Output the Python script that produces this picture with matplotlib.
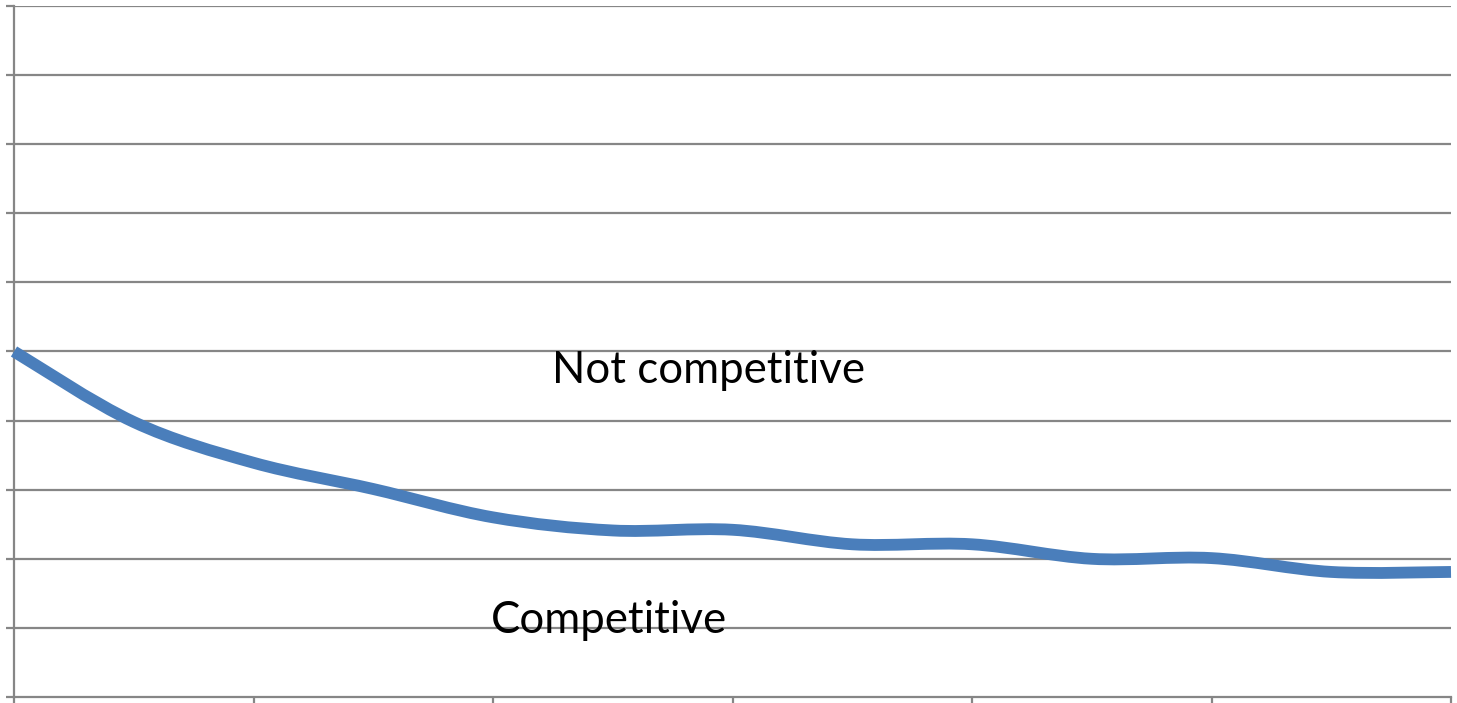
import matplotlib
matplotlib.use("Agg")
import matplotlib.pyplot as plt
from matplotlib.path import Path
from matplotlib.patches import PathPatch
import numpy as np

# Data
x_points = list(range(13))
threshold = [5.0, 3.98, 3.39, 3.01, 2.60, 2.41, 2.42, 2.21, 2.21, 2.00, 2.01, 1.81, 1.81]
y_ticks = list(range(11))
x_ticks = [0, 2, 4, 6, 8, 10, 12]
label_top = "Not competitive"
label_bottom = "Competitive"

W, H = 1457, 703
fig = plt.figure(figsize=(W / 100, H / 100), dpi=100)
ax = fig.add_axes([14 / W, 6 / H, (1451 - 14) / W, (697 - 6) / H])

ax.set_xlim(0, 12)
ax.set_ylim(0, 10)

grid_color = "#868686"
for yv in y_ticks[1:]:
    ax.axhline(yv, color=grid_color, lw=1.6, zorder=1)

for side in ["top", "right"]:
    ax.spines[side].set_visible(False)
ax.spines["left"].set_color(grid_color)
ax.spines["left"].set_linewidth(1.6)
ax.spines["bottom"].set_color(grid_color)
ax.spines["bottom"].set_linewidth(1.6)

ax.set_yticks(y_ticks)
ax.set_xticks(x_ticks)
ax.tick_params(axis="y", length=6, width=1.6, color=grid_color, labelleft=False, direction="out")
ax.tick_params(axis="x", length=4, width=1.6, color=grid_color, labelbottom=False, direction="out")

# Smoothed line (Catmull-Rom -> cubic Bezier)
xs = np.array(x_points, dtype=float)
ys = np.array(threshold, dtype=float)
pts = np.column_stack([xs, ys])
verts = [pts[0]]
codes = [Path.MOVETO]
n = len(pts)
for i in range(n - 1):
    p0 = pts[i - 1] if i > 0 else pts[i]
    p1 = pts[i]
    p2 = pts[i + 1]
    p3 = pts[i + 2] if i + 2 < n else pts[i + 1]
    c1 = p1 + (p2 - p0) / 6.0
    c2 = p2 - (p3 - p1) / 6.0
    verts += [c1, c2, p2]
    codes += [Path.CURVE4] * 3
path = Path(verts, codes)
patch = PathPatch(path, facecolor="none", edgecolor="#4A7EBB", lw=8.5,
                  capstyle="butt", joinstyle="round", zorder=3, clip_on=False)
ax.add_patch(patch)

font = ["Lato", "DejaVu Sans"]
ax.text(5.80, 4.73, label_top, ha="center", va="center", fontsize=31.5, family=font, color="black", zorder=4)
ax.text(4.97, 1.10, label_bottom, ha="center", va="center", fontsize=31.5, family=font, color="black", zorder=4)

fig.savefig("out.png", dpi=100, facecolor="white")
